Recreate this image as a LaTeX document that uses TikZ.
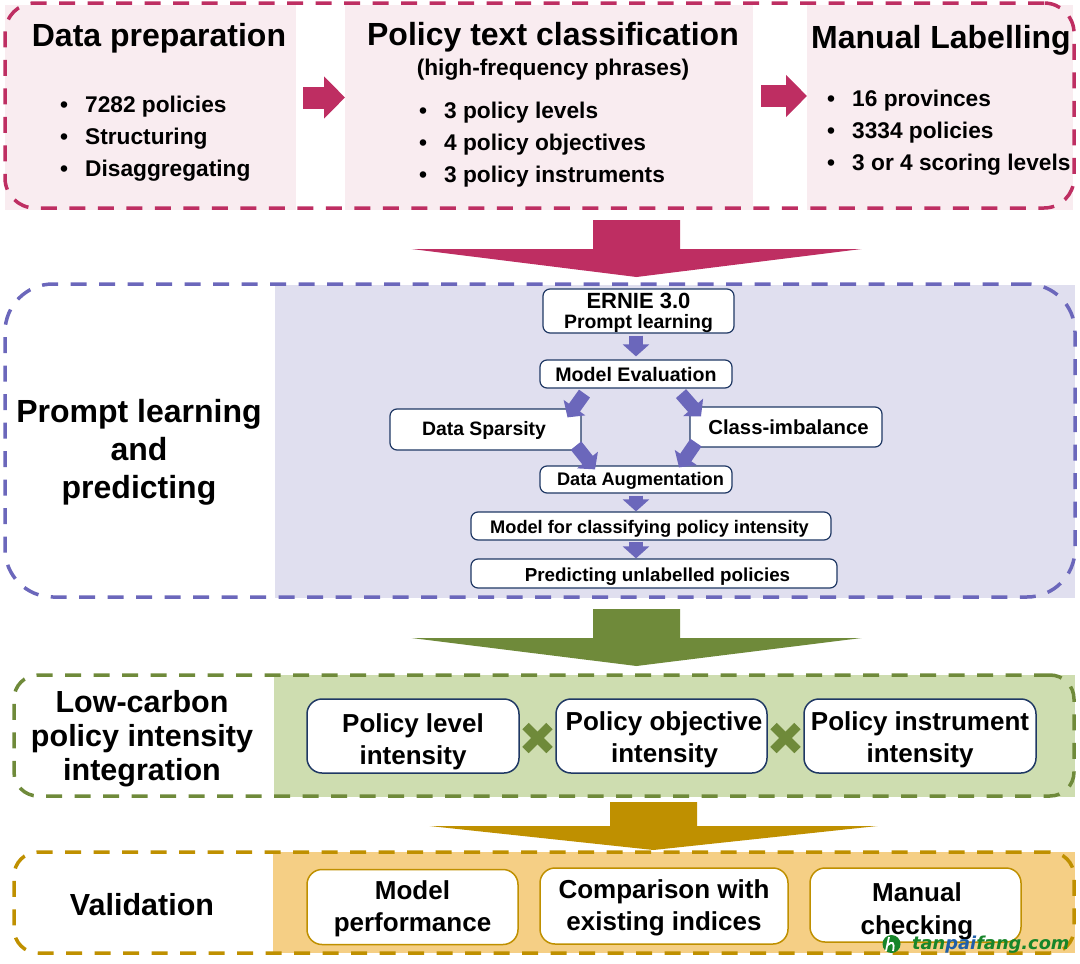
\documentclass[tikz,border=0pt]{standalone}
\usepackage{fontspec}
\setmainfont{Liberation Sans}
\newfontfamily\wmfont{DejaVu Sans}
\usetikzlibrary{arrows.meta}
\definecolor{cpink}{HTML}{BE2E62}
\definecolor{cpinkbg}{HTML}{F9ECF0}
\definecolor{cpurple}{HTML}{6B67BB}
\definecolor{cpurplebg}{HTML}{E0DFEF}
\definecolor{cgreen}{HTML}{6F8A3A}
\definecolor{cgreenbg}{HTML}{CEDDB0}
\definecolor{cgold}{HTML}{BF9000}
\definecolor{cgoldbg}{HTML}{F5CF85}
\definecolor{cnavy}{HTML}{1F3864}
\definecolor{cwm}{HTML}{17852A}
\definecolor{cwmb}{HTML}{1F5FA8}
\newcommand\sz[2]{\fontsize{#1}{#2}\selectfont\bfseries}
\newcommand\bul{\makebox[25pt][l]{•}}
\newcommand\up[1]{\rule{0pt}{#1pt}}
\newcommand\bigarr[7]{\fill[#1] (#2-#3,#5) -- (#2+#3,#5) -- (#2+#3,#6) -- (#2+#4,#6) -- (#2,#7) -- (#2-#4,#6) -- (#2-#3,#6) -- cycle;}
\tikzset{
  panel/.style={draw=none,inner sep=0pt,outer sep=0pt},
  frame/.style={draw,fill=none,line width=3.5pt,dash pattern=on 16pt off 12.5pt,inner sep=0pt},
  txt/.style={inner sep=0pt,align=center,text=black},
  flowbox/.style={draw=cnavy,fill=white,line width=1.2pt,rounded corners=7pt,inner sep=0pt,align=center,text=black},
  intbox/.style={draw=cnavy,fill=white,line width=1.5pt,rounded corners=15pt,inner sep=0pt,align=center,text=black},
  valbox/.style={draw=cgold,fill=white,line width=1.5pt,rounded corners=15pt,inner sep=0pt,align=center,text=black},
  midarrow/.style={draw=cpink,line width=22pt,-{Triangle[length=21pt,width=41pt,fill=cpink]}},
  flowarrow/.style={draw=cpurple,line width=13.5pt,-{Triangle[length=12pt,width=26pt,fill=cpurple]}},
  crossmark/.style={draw=cgreen,line width=9pt},
}
\begin{document}
\begin{tikzpicture}[x=1pt,y=-1pt]
\useasboundingbox (0,0) rectangle (1080,964);
% panels
\node[panel,fill=cpinkbg,minimum width=291pt,minimum height=205pt] (p1) at (150.5,107.5) {};
\node[panel,fill=cpinkbg,minimum width=408pt,minimum height=205pt] (p2) at (549,107.5) {};
\node[panel,fill=cpinkbg,minimum width=266pt,minimum height=205pt] (p3) at (940,107.5) {};
\node[panel,fill=cpurplebg,minimum width=800pt,minimum height=313pt] (p4) at (675,441.5) {};
\node[panel,fill=cgreenbg,minimum width=801pt,minimum height=122pt] (p5) at (674.5,736) {};
\node[panel,fill=cgoldbg,minimum width=802pt,minimum height=101pt] (p6) at (674,902.5) {};
% dashed frames
\node[frame,draw=cpink,rounded corners=30pt,minimum width=1069pt,minimum height=205pt] (f1) at (539.5,105.5) {};
\node[frame,draw=cpurple,rounded corners=48pt,minimum width=1070pt,minimum height=313pt] (f2) at (540,440.5) {};
\node[frame,draw=cgreen,rounded corners=24pt,minimum width=1060pt,minimum height=121pt] (f3) at (544,735.5) {};
\node[frame,draw=cgold,rounded corners=24pt,minimum width=1060pt,minimum height=101pt] (f4) at (544,902.5) {};
% big arrows
\bigarr{cpink}{636.5}{43.5}{225}{220}{249}{277}
\bigarr{cgreen}{636.5}{43.5}{225}{609}{638}{666}
\bigarr{cgold}{653.5}{43.5}{224}{802}{826}{850}
% top text
\node[txt,font=\sz{32}{38}] (t1) at (159,38.5) {Data preparation};
\node[txt,font=\sz{32}{38}] (t2) at (553,37.5) {Policy text classification};
\node[txt,font=\sz{22.7}{27}] (t2b) at (553,69.5) {(high-frequency phrases)};
\node[txt,font=\sz{32}{38}] (t3) at (941,40.5) {Manual Labelling};
\node[txt,align=left,anchor=north west,font=\sz{22.7}{32.2}] (l1) at (60,95.5) {\bul 7282 policies\\\bul Structuring\\\bul Disaggregating};
\node[txt,align=left,anchor=north west,font=\sz{22.7}{32.2}] (l2) at (419,101.5) {\bul 3 policy levels\\\bul 4 policy objectives\\\bul 3 policy instruments};
\node[txt,align=left,anchor=north west,font=\sz{22.7}{32.2}] (l3) at (827,89.5) {\bul 16 provinces\\\bul 3334 policies\\\bul 3 or 4 scoring levels};
% mid arrows
\coordinate (m1a) at (303,97.5); \coordinate (m2a) at (761,96);
\draw[midarrow] (m1a) -- (p2.west |- m1a);
\draw[midarrow] (m2a) -- (p3.west |- m2a);
% left labels
\node[txt,font=\sz{32}{38}] (l4) at (139,452) {Prompt learning\\and\\predicting};
\node[txt,font=\sz{30.5}{34}] (l5) at (142,739) {Low-carbon\\policy intensity\\integration};
\node[txt,font=\sz{30.5}{34}] (l6) at (142,905) {Validation};
% flow
\node[flowbox,minimum width=191pt,minimum height=44pt,font=\sz{22}{20}] (ernie) at (638.5,311) {\up{19}ERNIE 3.0\\\sz{19.4}{20}Prompt learning};
\node[flowbox,minimum width=192pt,minimum height=28pt,font=\sz{19.6}{22}] (eval) at (636,374) {Model Evaluation};
\node[flowbox,minimum width=191pt,minimum height=41pt,font=\sz{19.4}{24}] (spars) at (485.5,429.5) {\hspace*{-3pt}\up{16.5}Data Sparsity};
\node[flowbox,minimum width=192pt,minimum height=40pt,font=\sz{20.3}{24}] (cls) at (786,427) {\hspace*{5pt}Class-imbalance};
\node[flowbox,minimum width=192pt,minimum height=27pt,font=\sz{18.2}{22}] (aug) at (636,479.5) {\hspace*{9pt}\up{15.5}Data Augmentation};
\node[flowbox,minimum width=360pt,minimum height=28pt,font=\sz{18.2}{22}] (mdl) at (651,526) {\hspace*{-3pt}\up{19.5}Model for classifying policy intensity};
\node[flowbox,minimum width=366pt,minimum height=29pt,font=\sz{18.8}{22}] (pred) at (654,573.5) {\hspace*{7pt}\up{20}Predicting unlabelled policies};
\draw[flowarrow] ([xshift=-2.5pt]ernie.south) ++(0,2) -- ([yshift=3pt]eval.north);
\draw[flowarrow] ([shift={(-51.5,5)}]eval.south) -- ([shift={(82,9)}]spars.north);
\draw[flowarrow] ([shift={(45,5)}]eval.south) -- ([shift={(-85,10)}]cls.north);
\draw[flowarrow] ([shift={(90.5,-5)}]spars.south) -- ([shift={(-41,4)}]aug.north);
\draw[flowarrow] ([shift={(-90,-5)}]cls.south) -- ([shift={(43,2)}]aug.north);
\draw[flowarrow] (aug.south) ++(0,2) -- ([xshift=-15pt,yshift=0pt]mdl.north);
\draw[flowarrow] ([xshift=-15pt]mdl.south) ++(0,1) -- ([xshift=-18pt]pred.north);
% intensity
\node[intbox,minimum width=212pt,minimum height=74pt,font=\sz{26}{32}] (i1) at (413,736) {\up{31}Policy level\\intensity};
\node[intbox,minimum width=211pt,minimum height=74pt,font=\sz{26}{32}] (i2) at (661.5,736) {\hspace*{5pt}\up{27}Policy objective\\\hspace*{6pt}intensity};
\node[intbox,minimum width=232pt,minimum height=74pt,font=\sz{26}{32}] (i3) at (920,736) {\up{27}Policy instrument\\intensity};
\coordinate (c1) at (537.5,738); \coordinate (c2) at (785.5,738);
\draw[crossmark] ([shift={(-12,-12)}]c1) -- ([shift={(12,12)}]c1);
\draw[crossmark] ([shift={(-12,12)}]c1) -- ([shift={(12,-12)}]c1);
\draw[crossmark] ([shift={(-12,-12)}]c2) -- ([shift={(12,12)}]c2);
\draw[crossmark] ([shift={(-12,12)}]c2) -- ([shift={(12,-12)}]c2);
% validation
\node[valbox,minimum width=211pt,minimum height=75pt,font=\sz{26}{32}] (v1) at (412.5,907) {\up{23}Model\\performance};
\node[valbox,minimum width=248pt,minimum height=76pt,font=\sz{26}{32}] (v2) at (664,906) {\up{23}Comparison with\\existing indices};
\node[valbox,minimum width=211pt,minimum height=74pt,font=\sz{26}{33}] (v3) at (915.5,905) {\hspace*{3pt}\up{31}Manual\\\hspace*{3pt}checking};
% watermark
\node[circle,fill=cwm,minimum size=18pt,inner sep=0pt] (logo) at (891.5,944) {};
\draw[white,line width=1.8pt] (889,937) -- (886,951) (888,945) .. controls (892,941) and (895,942) .. (893,951);
\node[inner sep=0pt,anchor=west] (wm) at (912,945) {\wmfont\fontsize{17.8}{22}\selectfont\bfseries\itshape\textcolor{cwm}{tan}\textcolor{cwmb}{pai}\textcolor{cwm}{fang.com}};
\end{tikzpicture}
\end{document}
